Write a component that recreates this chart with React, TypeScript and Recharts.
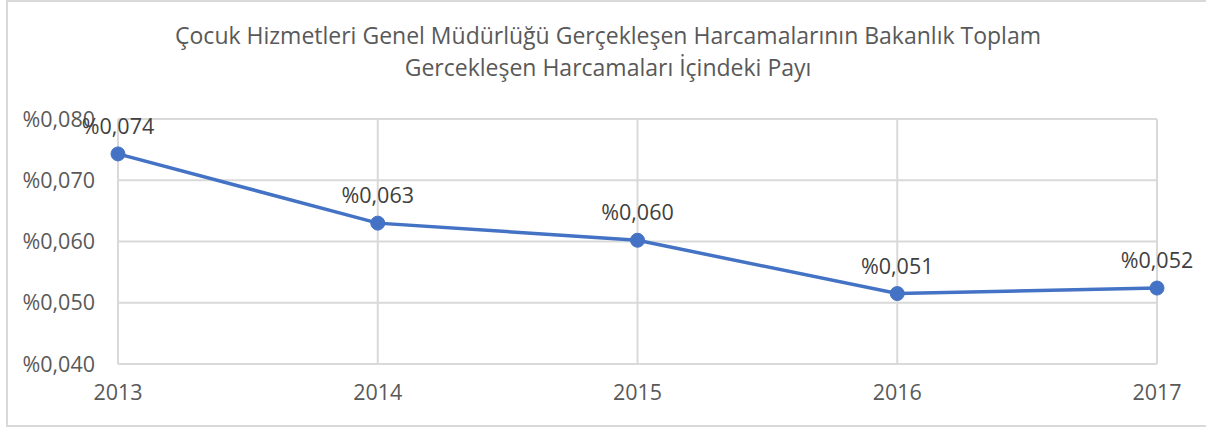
import React from "react";
import { LineChart, Line, XAxis, YAxis, CartesianGrid, LabelList } from "recharts";

const years = ["2013", "2014", "2015", "2016", "2017"];
const shares = [0.0743, 0.063, 0.0602, 0.0515, 0.0524];
const yTicks = [0.04, 0.05, 0.06, 0.07, 0.08];
const titleLines = [
  "Çocuk Hizmetleri Genel Müdürlüğü Gerçekleşen Harcamalarının Bakanlık Toplam",
  "Gercekleşen Harcamaları İçindeki Payı",
];

const data = years.map((y, i) => ({ year: y, value: shares[i] }));
const fmt = (v: number) => "%" + v.toFixed(3).replace(".", ",");

const FONT = "'Open Sans', sans-serif";
const TEXT = "#595959";

export default function App() {
  return (
    <div style={{ position: "absolute", left: 0, top: 0, width: 1206, height: 427, background: "#fff", overflow: "hidden", fontFamily: FONT }}>
      <div style={{ position: "absolute", left: 6, top: 0, width: 1220, height: 423, border: "2px solid #d9d9d9", boxSizing: "content-box" }} />
      <div style={{ position: "absolute", left: 0, top: 19, width: 1216, textAlign: "center", color: TEXT, fontSize: 23, lineHeight: "32px" }}>
        {titleLines.map((t) => (
          <div key={t}>{t}</div>
        ))}
      </div>
      <div style={{ position: "absolute", left: 0, top: 0 }}>
        <LineChart width={1206} height={427} data={data} margin={{ top: 119, right: 49, bottom: 0, left: 18 }}>
          <CartesianGrid stroke="#d9d9d9" strokeWidth={2} />
          <XAxis
            dataKey="year"
            scale="point"
            padding={{ left: 0, right: 0 }}
            height={63}
            axisLine={{ stroke: "#d9d9d9", strokeWidth: 2 }}
            tickLine={false}
            tickSize={0}
            tickMargin={21}
            tick={{ fill: TEXT, fontSize: 21.5, fontFamily: FONT }}
            interval={0}
          />
          <YAxis
            width={100}
            domain={[0.04, 0.08]}
            ticks={yTicks}
            tickFormatter={fmt}
            axisLine={false}
            tickLine={false}
            tickSize={0}
            tickMargin={23}
            tick={{ fill: TEXT, fontSize: 21.5, fontFamily: FONT }}
          />
          <Line
            dataKey="value"
            stroke="#4472C4"
            strokeWidth={3.5}
            dot={{ r: 7, fill: "#4472C4", stroke: "#4472C4", strokeWidth: 1 }}
            isAnimationActive={false}
          >
            <LabelList dataKey="value" position="top" offset={20} formatter={(v: any) => fmt(Number(v))} fill="#404040" fontSize={21.5} fontFamily={FONT} />
          </Line>
        </LineChart>
      </div>
    </div>
  );
}
